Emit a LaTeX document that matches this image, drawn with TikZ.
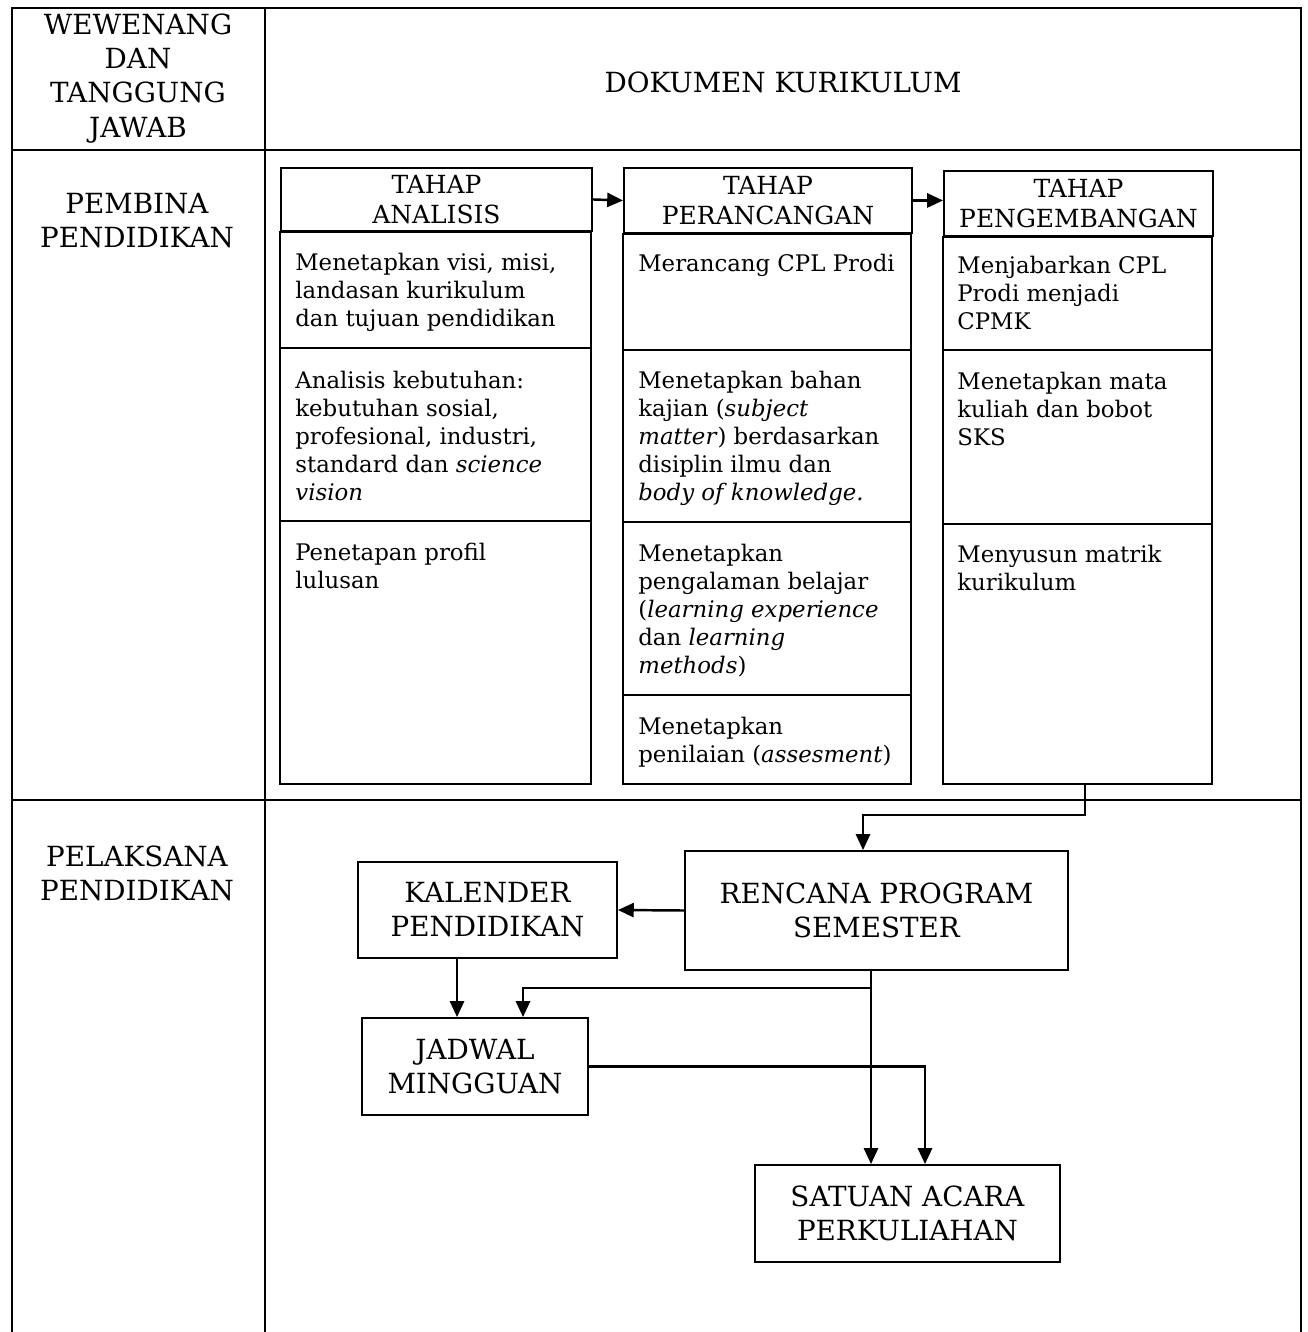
\documentclass[tikz,border=0pt]{standalone}
\usepackage{fontspec}
\setmainfont{DejaVu Serif}
\usetikzlibrary{arrows.meta}

\begin{document}
\begin{tikzpicture}[x=0.02cm, y=-0.02cm,
		every node/.style={inner sep=0pt},
		big/.style={align=center, font=\fontsize{15.8}{19.4}\selectfont},
		tahap/.style={draw, line width=1.1pt, anchor=north west, align=center, font=\fontsize{14.2}{17}\selectfont},
		isi/.style={anchor=north west, align=left, font=\fontsize{13}{15.9}\selectfont},
		kotak/.style={draw, line width=1.1pt, align=center, font=\fontsize{15.8}{19.4}\selectfont},
		garis/.style={line width=0.9pt},
		tebal/.style={line width=1.1pt},
		panah/.style={line width=1.4pt, -{Triangle[length=9pt,width=8pt]}}]
			\useasboundingbox (0,0) rectangle (1308,1332);
			
			% tabel
			\draw[garis] (12,1332) -- (12,8) -- (1301,8) -- (1301,1332);
			\draw[garis] (265,8) -- (265,1332);
			\draw[garis] (12,150) -- (1301,150);
			\draw[garis] (12,800) -- (1301,800);
			
			\node[big] (wwn) at (138,78.5) {WEWENANG\\DAN\\TANGGUNG\\JAWAB};
			\node[big] (dok) at (783,82) {DOKUMEN KURIKULUM};
			\node[big] (pembina) at (137,221) {PEMBINA\\PENDIDIKAN};
			\node[big] (pelaksana) at (137,873.5) {PELAKSANA\\PENDIDIKAN};
			
			% tahap analisis
			\node[tahap, minimum width=6.22cm, minimum height=1.26cm] (anaH) at (280,167) {TAHAP\\ANALISIS};
			\draw[tebal] (anaH.south west) rectangle (591,784);
			\draw[tebal] (280,348) -- (591,348) (280,521) -- (591,521);
			\node[isi] (ana1) at (295,253) {Menetapkan visi, misi,\\landasan kurikulum\\dan tujuan pendidikan};
			\node[isi] (ana2) at (295,371) {Analisis kebutuhan:\\kebutuhan sosial,\\profesional, industri,\\standard dan \textit{science}\\\textit{vision}};
			\node[isi] (ana3) at (295,543) {Penetapan profil\\lulusan};
			
			% tahap perancangan
			\node[tahap, minimum width=5.76cm, minimum height=1.3cm] (perH) at (623,167) {TAHAP\\PERANCANGAN};
			\draw[tebal] (perH.south west) rectangle (911,784);
			\draw[tebal] (623,350) -- (911,350) (623,522) -- (911,522) (623,695) -- (911,695);
			\node[isi] (per1) at (638,254) {Merancang CPL Prodi};
			\node[isi] (per2) at (638,371) {Menetapkan bahan\\kajian (\textit{subject}\\\textit{matter}) berdasarkan\\disiplin ilmu dan\\\textit{body of knowledge.}};
			\node[isi] (per3) at (638,544) {Menetapkan\\pengalaman belajar\\(\textit{learning experience}\\dan \textit{learning}\\\textit{methods})};
			\node[isi] (per4) at (638,717) {Menetapkan\\penilaian (\textit{assesment})};
			
			% tahap pengembangan
			\node[tahap, minimum width=5.38cm, minimum height=1.3cm] (pgnH) at (943,170) {TAHAP\\PENGEMBANGAN};
			\draw[tebal] (pgnH.south west) rectangle (1212,784);
			\draw[tebal] (943,350) -- (1212,350) (943,524) -- (1212,524);
			\node[isi] (pgn1) at (957,256) {Menjabarkan CPL\\Prodi menjadi\\CPMK};
			\node[isi] (pgn2) at (957,372) {Menetapkan mata\\kuliah dan bobot\\SKS};
			\node[isi] (pgn3) at (957,545) {Menyusun matrik\\kurikulum};
			\coordinate (pgnout) at (1085,784);
			
			\draw[panah] (anaH.east) -- (perH.west);
			\draw[panah] (perH.east) -- (perH.east -| pgnH.west);
			
			% pelaksana
			\node[kotak, minimum width=7.66cm, minimum height=2.38cm] (rps) at (876.5,910.5) {RENCANA PROGRAM\\SEMESTER};
			\node[kotak, minimum width=5.18cm, minimum height=1.92cm] (kal) at (487.5,910) {KALENDER\\PENDIDIKAN};
			\node[kotak, minimum width=4.52cm, minimum height=1.94cm] (jad) at (475,1066.5) {JADWAL\\MINGGUAN};
			\node[kotak, minimum width=6.1cm, minimum height=1.94cm] (sap) at (907.5,1213.5) {SATUAN ACARA\\PERKULIAHAN};
			
			\coordinate (tee) at (863,815);
			\coordinate (split) at (871,988);
			\draw[panah] (pgnout) |- (tee) -- (tee |- rps.north);
			\draw[panah] (rps.west) -- (kal.east);
			\draw[panah] ([xshift=-0.61cm]kal.south) -- ([xshift=-0.61cm]kal.south |- jad.north);
			\draw[panah] ([xshift=-0.11cm]rps.south) -- ([xshift=-0.11cm]rps.south |- sap.north);
			\draw[panah] (split) -| ([xshift=0.96cm]jad.north);
			\draw[panah] (jad.east) -| ([xshift=0.35cm]sap.north);
		\end{tikzpicture}
\end{document}
